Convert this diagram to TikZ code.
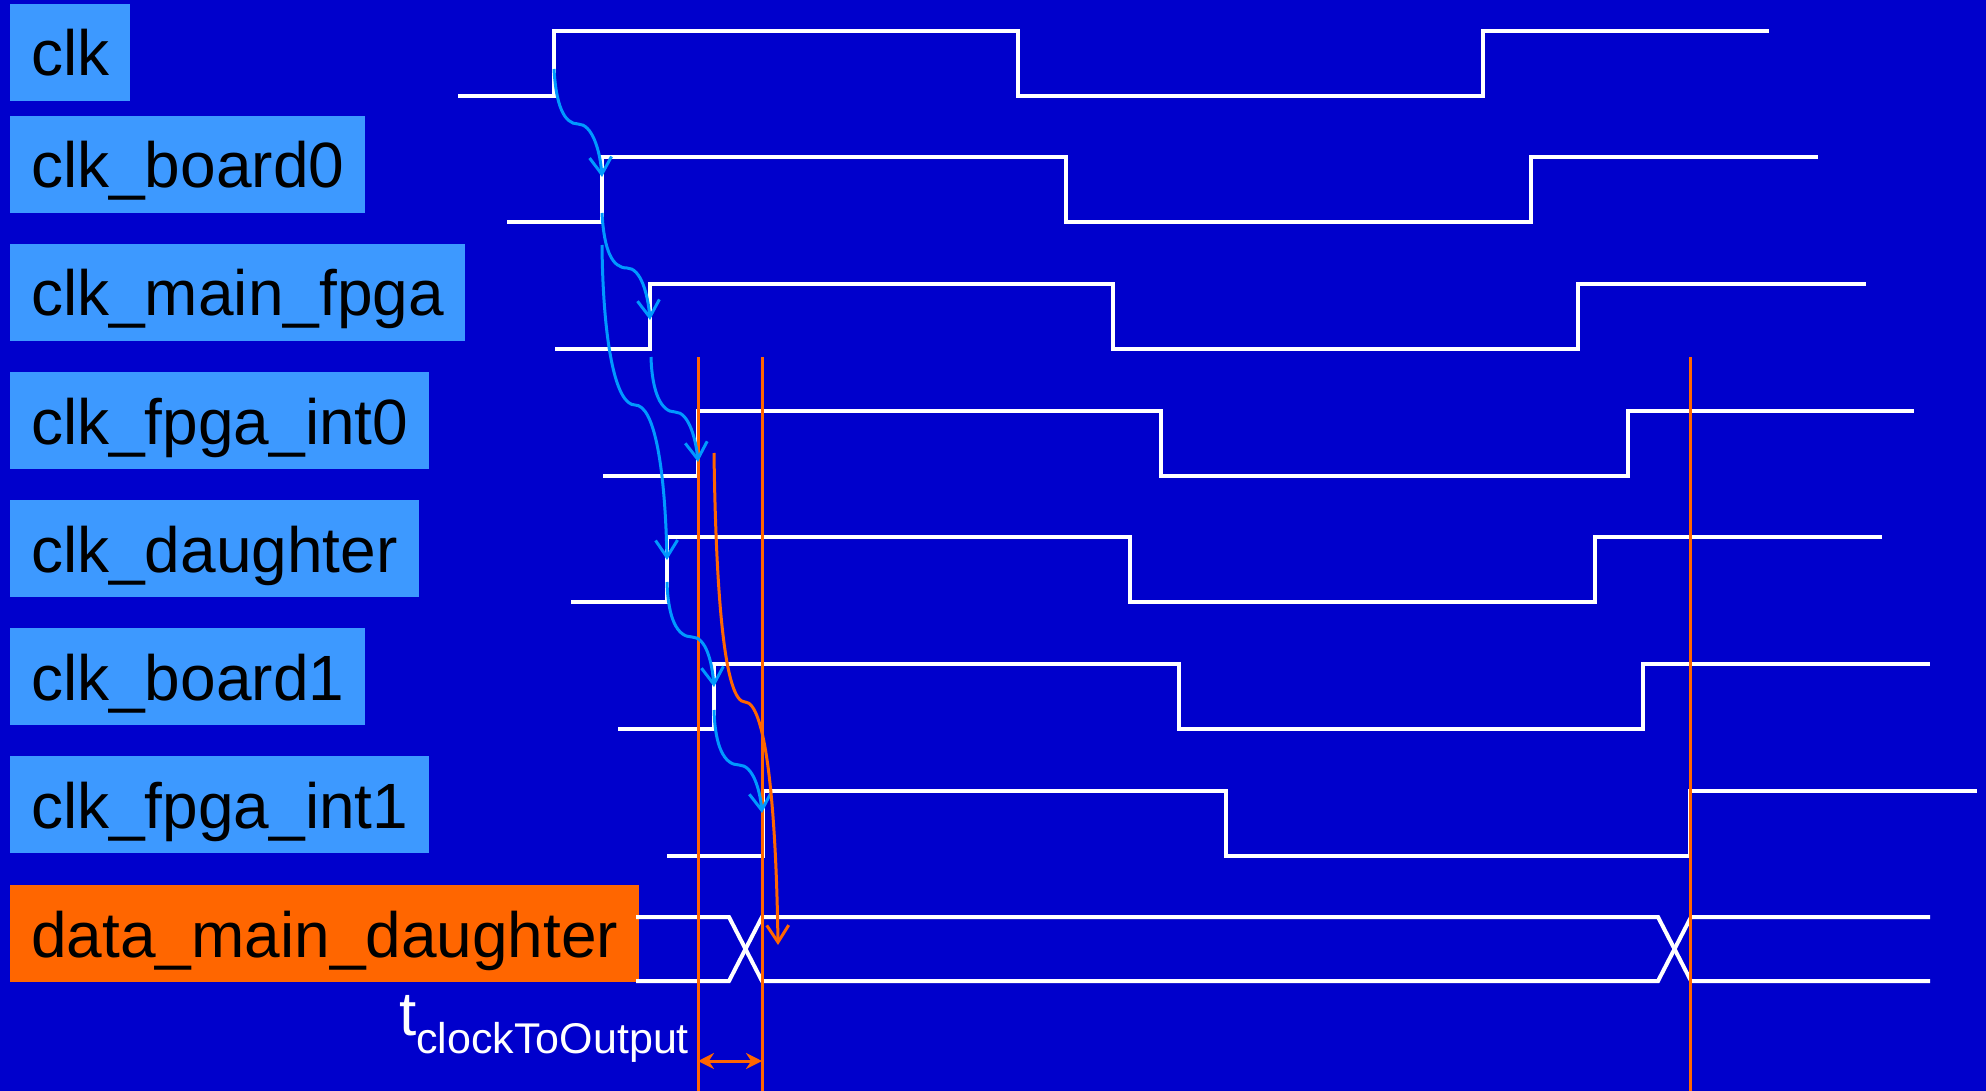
\documentclass[tikz,border=0pt]{standalone}
\usepackage{fontspec}
\setmainfont{Liberation Sans}
\usetikzlibrary{arrows.meta}
\definecolor{bg}{RGB}{0,0,204}
\definecolor{lbl}{RGB}{61,153,255}
\definecolor{org}{RGB}{255,102,0}
\definecolor{arr}{RGB}{0,153,255}
\newcommand\clockwave[6]{\draw[sig] (#2,#1+65) -- (#3,#1+65) -- (#3,#1) -- (#4,#1) -- (#4,#1+65) -- (#5,#1+65) -- (#5,#1) -- (#6,#1);}
\begin{document}
\begin{tikzpicture}[x=1pt,y=-1pt,
  sig/.style={draw=white,line width=4pt,line join=miter},
  lab/.style={anchor=base west,fill=lbl,text=black,inner xsep=21pt,inner ysep=0pt,
    text height=72pt,text depth=25pt,font=\fontsize{64}{70}\selectfont},
  olab/.style={lab,fill=org},
  delay/.style={draw=arr,line width=3pt,-{Straight Barb[length=17pt,width=22pt,line width=3pt]}},
  odelay/.style={draw=org,line width=3pt,-{Straight Barb[length=17pt,width=22pt,line width=3pt]}},
  mark line/.style={draw=org,line width=3pt}]
\fill[bg] (0,0) rectangle (1986,1091);
\useasboundingbox (0,0) rectangle (1986,1091);
% labels
\node[lab] (lclk) at (10,76) {clk};
\node[lab] (lb0) at (10,188) {clk\_board0};
\node[lab] (lmf) at (10,316) {clk\_main\_fpga};
\node[lab] (li0) at (10,444) {clk\_fpga\_int0};
\node[lab] (ld) at (10,572) {clk\_daughter};
\node[lab] (lb1) at (10,700) {clk\_board1};
\node[lab] (li1) at (10,828) {clk\_fpga\_int1};
\node[olab] (ldata) at (10,957) {data\_main\_daughter};
% waveforms
\clockwave{31}{458}{554}{1018}{1483}{1769}
\clockwave{157}{507}{602}{1066}{1531}{1818}
\clockwave{284}{555}{650}{1113}{1578}{1866}
\clockwave{411}{603}{698}{1161}{1628}{1914}
\clockwave{537}{571}{667}{1130}{1595}{1882}
\clockwave{664}{618}{714}{1179}{1643}{1930}
\clockwave{791}{667}{763}{1226}{1690}{1977}
\draw[sig] (636,917) -- (729,917) -- (762,981) -- (1658,981) -- (1691,917) -- (1930,917);
\draw[sig] (636,981) -- (729,981) -- (762,917) -- (1658,917) -- (1691,981) -- (1930,981);
% coordinates
\coordinate (s1) at (554,69);  \coordinate (t1) at (602,177);
\coordinate (s2) at (602,213); \coordinate (t2) at (650,320);
\coordinate (s3) at (602,245); \coordinate (t3) at (667,560);
\coordinate (s4) at (651,357); \coordinate (t4) at (698,462);
\coordinate (s5) at (667,582); \coordinate (t5) at (714,687);
\coordinate (s6) at (714,710); \coordinate (t6) at (762,813);
\coordinate (s7) at (714,453); \coordinate (t7) at (778,945);
% orange markers
\coordinate (m1a) at (698,357); \coordinate (m1b) at (698,1091);
\coordinate (m2a) at (762,357); \coordinate (m2b) at (762,1091);
\coordinate (m3a) at (1690,357); \coordinate (m3b) at (1690,1091);
\draw[mark line] (m1a) -- (m1b);
\draw[mark line] (m2a) -- (m2b);
\draw[mark line] (m3a) -- (m3b);
\coordinate (d1) at (698,1061); \coordinate (d2) at (762,1061);
\draw[draw=org,line width=3pt,{Stealth[length=16pt,width=16pt]}-{Stealth[length=16pt,width=16pt]}] (d1) -- (d2);
% delay arrows
\draw[delay] (s1) .. controls (556,105) and (564,124) .. (578,124) .. controls (592,124) and (600,150) .. (t1);
\draw[delay] (s2) .. controls (604,250) and (612,268) .. (627,268) .. controls (641,268) and (648,295) .. (t2);
\draw[delay] (s3) .. controls (603,340) and (615,405) .. (635,405) .. controls (655,405) and (665,470) .. (t3);
\draw[delay] (s4) .. controls (652,392) and (661,412) .. (675,412) .. controls (689,412) and (696,440) .. (t4);
\draw[delay] (s5) .. controls (668,618) and (677,637) .. (692,637) .. controls (706,637) and (712,662) .. (t5);
\draw[delay] (s6) .. controls (715,746) and (724,765) .. (739,765) .. controls (753,765) and (760,790) .. (t6);
\draw[odelay] (s7) .. controls (716,600) and (725,702) .. (745,702) .. controls (765,702) and (776,800) .. (t7);
% timing label
\node[anchor=base west,text=white,inner sep=0pt,font=\fontsize{62}{66}\selectfont] (tco) at (399,1035) {t\raisebox{-18pt}{\fontsize{43}{45}\selectfont clockToOutput}};
\end{tikzpicture}
\end{document}
